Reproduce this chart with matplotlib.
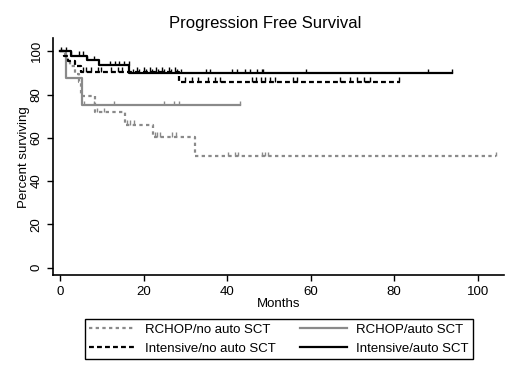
import numpy as np
import matplotlib
matplotlib.use('Agg')
from matplotlib import pyplot as plt

plt.rcParams['font.family'] = ['Liberation Sans', 'DejaVu Sans']

# step curves: times where the level changes, and the level from that time on
rchop_no_t = [0, 1.2, 2.4, 3.5, 4.5, 5.0, 8.3, 15.5, 22.2, 32.2, 104.5]
rchop_no_s = [100, 96.5, 93.0, 89.5, 86.0, 79.3, 72.0, 66.0, 60.5, 51.5, 51.5]
rchop_no_cens = [8.8, 10.6, 16.0, 16.8, 17.6, 22.8, 23.3, 24.0, 26.8, 27.8,
                 40.2, 42.0, 42.7, 48.3, 49.1, 49.9, 104.5]

rchop_auto_t = [0, 1.4, 5.3, 43.1]
rchop_auto_s = [100, 87.5, 75.0, 75.0]
rchop_auto_cens = [5.6, 8.2, 13.0, 25.0, 27.2, 28.5, 43.1]

int_no_t = [0, 1.0, 2.0, 3.5, 5.0, 28.4, 81.3]
int_no_s = [100, 97.7, 95.4, 93.1, 90.6, 86.0, 86.0]
int_no_cens = [5.4, 6.2, 7.4, 9.0, 9.9, 12.2, 13.8, 14.8, 18.5, 20.0, 21.5,
               23.0, 24.5, 26.0, 27.5, 30.0, 31.6, 33.1, 35.5, 37.1, 38.3,
               45.9, 47.0, 48.0, 49.1, 50.3, 51.5, 55.9, 56.7, 67.1, 69.5,
               71.1, 72.7, 74.3, 81.1]

int_auto_t = [0, 2.6, 6.5, 9.4, 16.6, 93.9]
int_auto_s = [100, 98.0, 96.0, 93.5, 90.0, 90.0]
int_auto_cens = [0.3, 1.4, 2.6, 4.6, 5.4, 6.5, 8.0, 12.0, 13.2, 14.2, 15.3,
                 16.4, 17.5, 19.0, 20.5, 22.0, 23.5, 25.0, 26.5, 28.0, 29.0,
                 35.0, 36.0, 41.1, 42.3, 44.3, 45.5, 47.1, 48.3, 48.7, 59.0,
                 88.1, 93.9]

labels = ['RCHOP/no auto SCT', 'RCHOP/auto SCT',
          'Intensive/no auto SCT', 'Intensive/auto SCT']

gray = '#8a8a8a'
styles = [
    dict(color=gray, linestyle=(0, (1.5, 1.5)), linewidth=1.6),
    dict(color=gray, linestyle='-', linewidth=1.6),
    dict(color='black', linestyle=(0, (2.2, 1.4)), linewidth=1.6),
    dict(color='black', linestyle='-', linewidth=1.6),
]
curves = [(rchop_no_t, rchop_no_s, rchop_no_cens),
          (rchop_auto_t, rchop_auto_s, rchop_auto_cens),
          (int_no_t, int_no_s, int_no_cens),
          (int_auto_t, int_auto_s, int_auto_cens)]


def level_at(t, times, surv):
    idx = np.searchsorted(np.array(times), t, side='right') - 1
    return surv[max(idx, 0)]


fig = plt.figure(figsize=(5.2, 3.79), dpi=100)
ax = fig.add_axes([0.102, 0.274, 0.867, 0.625])

handles = []
for (t, s, cens), st, lab in zip(curves, styles, labels):
    h, = ax.step(t, s, where='post', label=lab, **st)
    handles.append(h)
    cy = np.array([level_at(c, t, s) for c in cens])
    ax.vlines(cens, cy, cy + 2.0, color=st['color'], linewidth=1.0)

ax.set_xlim(-1.7, 106.3)
ax.set_ylim(-3.5, 106)
ax.set_xticks([0, 20, 40, 60, 80, 100])
ax.set_yticks([0, 20, 40, 60, 80, 100])
ax.spines['top'].set_visible(False)
ax.spines['right'].set_visible(False)
ax.spines['left'].set_linewidth(1.2)
ax.spines['bottom'].set_linewidth(1.2)
ax.tick_params(direction='out', length=4, width=1.0, labelsize=9.5)
plt.setp(ax.get_yticklabels(), rotation=90, va='center')
ax.set_xlabel('Months', fontsize=9.5, labelpad=0)
ax.set_ylabel('Percent surviving', fontsize=9.5, labelpad=0.5)
fig.text(0.51, 0.937, 'Progression Free Survival', fontsize=12,
         ha='center', va='center')

order = [0, 2, 1, 3]
leg = fig.legend([handles[i] for i in order], [labels[i] for i in order],
                 ncol=2, loc='center', bbox_to_anchor=(0.536, 0.105),
                 fancybox=False, edgecolor='black', fontsize=9.5,
                 handlelength=3.5, handletextpad=0.7, columnspacing=1.9,
                 borderpad=0.35, labelspacing=0.5, framealpha=1)
leg.get_frame().set_linewidth(1.0)

fig.savefig('out.png', dpi=100)
